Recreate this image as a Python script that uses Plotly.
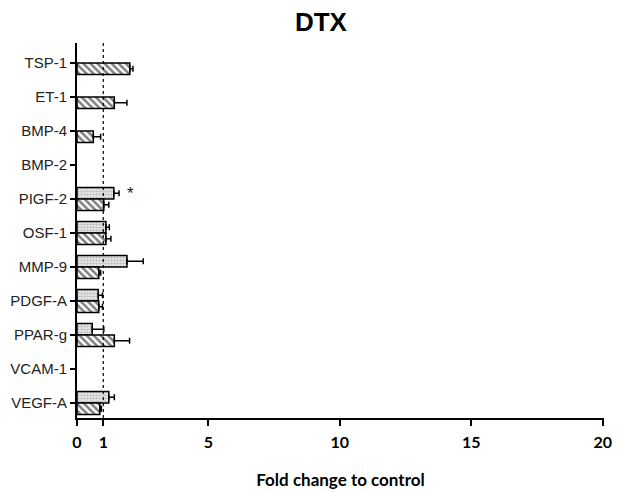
import plotly.graph_objects as go

categories = ["TSP-1", "ET-1", "BMP-4", "BMP-2", "PIGF-2", "OSF-1",
              "MMP-9", "PDGF-A", "PPAR-g", "VCAM-1", "VEGF-A"]
# dotted series (upper bar of each pair); None = no bar
dotted_vals = [None, None, None, None, 1.40, 1.10, 1.90, 0.81, 0.58, None, 1.21]
dotted_err = [None, None, None, None, 0.20, 0.13, 0.62, 0.16, 0.44, None, 0.21]
# hatched series (lower bar of each pair)
hatched_vals = [2.01, 1.42, 0.62, None, 1.02, 1.10, 0.83, 0.83, 1.42, None, 0.87]
hatched_err = [0.12, 0.48, 0.28, None, 0.19, 0.19, 0.07, 0.14, 0.58, None, 0.06]
x_ticks = [0, 1, 5, 10, 15, 20]

n = len(categories)
pos = [n - 1 - i for i in range(n)]
bw = 0.34

def clean(vals, errs, off):
    ys, xs, es = [], [], []
    for p, v, e in zip(pos, vals, errs):
        if v is not None:
            ys.append(p + off)
            xs.append(v)
            es.append(e)
    return ys, xs, es

dy, dx, de = clean(dotted_vals, dotted_err, bw / 2)
hy, hx, he = clean(hatched_vals, hatched_err, -bw / 2)

fig = go.Figure()
fig.add_trace(go.Bar(
    y=dy, x=dx, orientation="h", width=bw,
    marker=dict(color="white", line=dict(color="black", width=1.5),
                pattern=dict(shape=".", fgcolor="#8a8a8a", bgcolor="#f4f4f4",
                             size=3, solidity=0.55)),
    error_x=dict(type="data", array=de, arrayminus=[0] * len(de),
                 symmetric=False, color="black", thickness=1.5, width=3),
    showlegend=False))
fig.add_trace(go.Bar(
    y=hy, x=hx, orientation="h", width=bw,
    marker=dict(color="white", line=dict(color="black", width=1.5),
                pattern=dict(shape="\\", fgcolor="black", bgcolor="white",
                             size=5, solidity=0.5)),
    error_x=dict(type="data", array=he, arrayminus=[0] * len(he),
                 symmetric=False, color="black", thickness=1.5, width=3),
    showlegend=False))

fig.add_shape(type="line", x0=1, x1=1, y0=0, y1=1, yref="paper",
              line=dict(color="black", width=1.2, dash="dot"))

star_i = categories.index("PIGF-2")
fig.add_annotation(x=dotted_vals[star_i] + dotted_err[star_i], y=pos[star_i] + bw / 2,
                   text="*", showarrow=False, xanchor="left", xshift=6,
                   font=dict(family="Liberation Sans, Arial", size=17, color="#222"))

fig.update_layout(
    width=622, height=492,
    margin=dict(l=77, r=18, t=43, b=74),
    plot_bgcolor="white", paper_bgcolor="white",
    title=dict(text="<b>DTX</b>", x=0.516, xanchor="center", y=0.955, yanchor="middle",
               font=dict(family="Liberation Sans, Arial, sans-serif", size=26, color="black")),
    barmode="overlay",
    xaxis=dict(range=[0, 20.05], tickvals=x_ticks, ticktext=[f"<b>{t}</b>" for t in x_ticks],
               automargin=False, ticklabelstandoff=3,
               showgrid=False, zeroline=False, showline=True, linecolor="black", linewidth=2,
               ticks="outside", ticklen=6, tickwidth=1.5, tickcolor="black",
               tickfont=dict(family="Lato, sans-serif", size=16, color="black"),
               title=dict(text="<b>Fold change to control</b>", standoff=24,
                          font=dict(family="Lato, sans-serif", size=17, color="black"))),
    yaxis=dict(range=[-0.44, n - 1 + 0.59], tickvals=pos, ticktext=categories,
               automargin=False,
               showgrid=False, zeroline=False, showline=True, linecolor="black", linewidth=2,
               ticks="outside", ticklen=5, tickwidth=1.5, tickcolor="black",
               tickfont=dict(family="Liberation Sans, Arial", size=15, color="#222")),
)

fig.write_html("out.html")
